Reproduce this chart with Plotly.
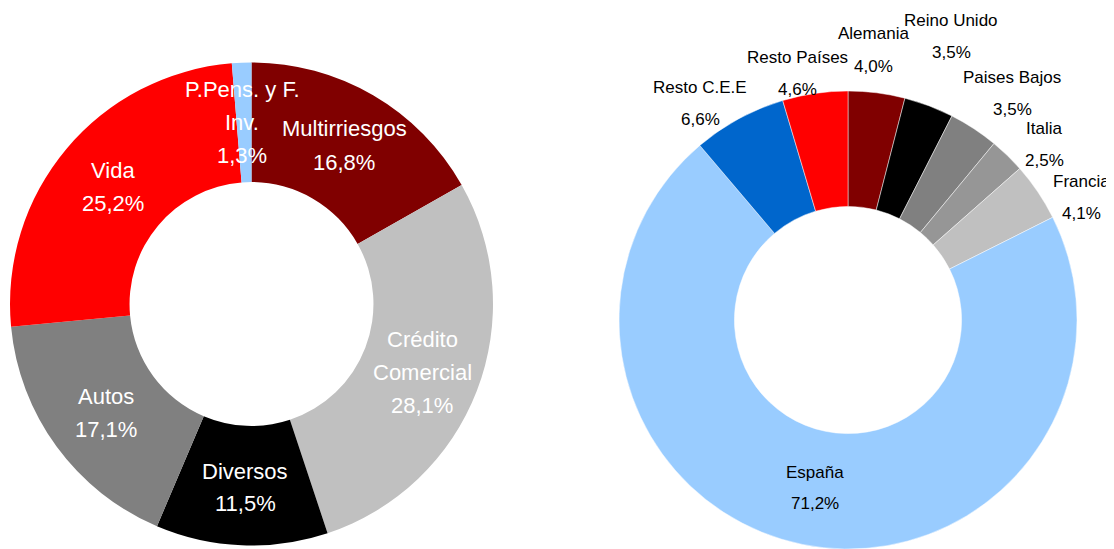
import plotly.graph_objects as go

# The page has an 8px body margin; target pixel coordinates are window coordinates.
OFF = 8
W, H = 1114 - OFF, 549 - OFF

# ---- data: left donut (ramos) ----
ramos = ["Multirriesgos", "Crédito<br>Comercial", "Diversos", "Autos", "Vida", "P.Pens. y F.<br>Inv."]
ramos_pct = [16.8, 28.1, 11.5, 17.1, 25.2, 1.3]
ramos_colors = ["#800000", "#C0C0C0", "#000000", "#808080", "#FF0000", "#99CCFF"]

# ---- data: right donut (países) ----
paises = ["Alemania", "Reino Unido", "Paises Bajos", "Italia", "Francia", "España", "Resto C.E.E", "Resto Países"]
paises_pct = [4.0, 3.5, 3.5, 2.5, 4.1, 71.2, 6.6, 4.6]
paises_colors = ["#800000", "#000000", "#808080", "#969696", "#C0C0C0", "#99CCFF", "#0066CC", "#FF0000"]

# label anchor positions (window pixels, centre of first line) and line spacing
ramos_label_pos = [(344, 129), (422, 339), (245, 471), (106, 396), (113, 170), (242, 89)]
ramos_line_gap = 33
paises_label_pos = [(873, 34), (951, 21), (1012, 78), (1044, 128), (1081, 181), (815, 472), (700, 88), (797, 57)]
paises_line_gap = 32

FONT = "Liberation Sans, Arial, sans-serif"


def fmt(v):
    return f"{v:.1f}".replace(".", ",") + "%"


def fx(x):
    return (x - OFF) / W


def fy(y):
    return 1 - (y - OFF) / H


def px_dom(x0, x1, y0, y1):
    return dict(x=[max(0, fx(x0)), min(1, fx(x1))], y=[max(0, fy(y1)), min(1, fy(y0))])


fig = go.Figure()

fig.add_trace(go.Pie(
    labels=ramos, values=ramos_pct, sort=False, direction="clockwise", rotation=0,
    hole=0.505, textinfo="none", hoverinfo="label+percent",
    marker=dict(colors=ramos_colors, line=dict(width=0)),
    domain=px_dom(10, 493, 62.5, 545.5), showlegend=False,
))

fig.add_trace(go.Pie(
    labels=paises, values=paises_pct, sort=False, direction="clockwise", rotation=0,
    hole=0.496, textinfo="none", hoverinfo="label+percent",
    marker=dict(colors=paises_colors, line=dict(width=0.6, color="rgba(255,255,255,0.8)")),
    domain=px_dom(619, 1077, 91, 549), showlegend=False,
))

annotations = []


def add_labels(names, vals, positions, gap, size, color):
    for name, v, (x, y) in zip(names, vals, positions):
        lines = name.split("<br>") + [fmt(v)]
        for i, ln in enumerate(lines):
            annotations.append(dict(
                x=fx(x), y=fy(y + i * gap), xref="paper", yref="paper",
                text=ln, showarrow=False, xanchor="center", yanchor="middle",
                font=dict(family=FONT, size=size, color=color),
            ))


add_labels(ramos, ramos_pct, ramos_label_pos, ramos_line_gap, 22, "#FFFFFF")
add_labels(paises, paises_pct, paises_label_pos, paises_line_gap, 17, "#000000")

fig.update_layout(
    width=W, height=H,
    margin=dict(l=0, r=0, t=0, b=0),
    paper_bgcolor="#FFFFFF", plot_bgcolor="#FFFFFF",
    annotations=annotations,
    font=dict(family=FONT),
)

fig.write_html("out.html")
